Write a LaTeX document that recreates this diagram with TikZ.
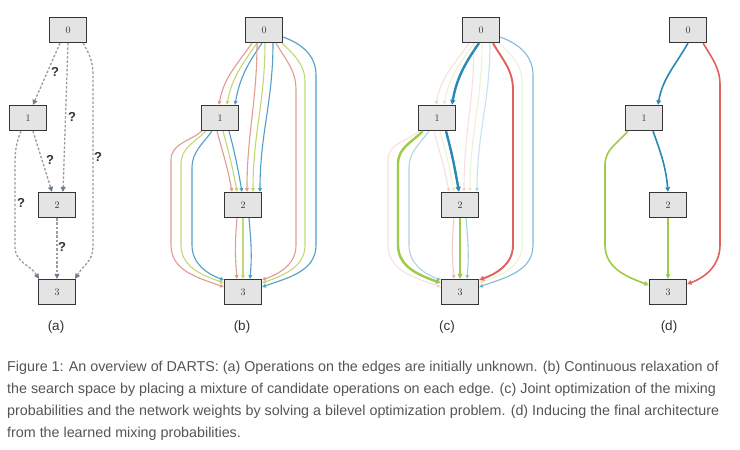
\documentclass[tikz,border=0pt]{standalone}
\usepackage{fontspec}
\newfontfamily\capfont{Liberation Sans}
\usetikzlibrary{arrows.meta,calc}
\definecolor{boxfill}{HTML}{E4E4E4}
\definecolor{boxline}{HTML}{353535}
\definecolor{dashc}{HTML}{9C9C9C}
\definecolor{tipa}{HTML}{6E7B92}
\definecolor{lr}{HTML}{E39A94}
\definecolor{lg}{HTML}{C2D973}
\definecolor{lb}{HTML}{4F9FC6}
\definecolor{dr}{HTML}{E0625B}
\definecolor{dg}{HTML}{9CCB47}
\definecolor{db}{HTML}{2A88B4}
\definecolor{captext}{HTML}{555555}

% all mixed edges of a panel (b)/(c); #1 = node name prefix
\newcommand\drawmix[1]{%
% 0 -> 1
\draw[rB,s01r/.try] ($(#10.south)+(-12,0)$) to[out=-125,in=80] ($(#11.north)+(-1,0)$);
\draw[gB,s01g/.try] ($(#10.south)+(-7,0)$) to[out=-125,in=80] ($(#11.north)+(7,0)$);
\draw[bB,s01b/.try] ($(#10.south)+(-2,0)$) to[out=-125,in=80] ($(#11.north)+(15,0)$);
% 0 -> 2
\draw[rB,s02r/.try] ($(#10.south)+(-7,0)$) to[out=-90,in=90] ($(#12.north)+(4,0)$);
\draw[gB,s02g/.try] ($(#10.south)+(1,0)$) to[out=-90,in=90] ($(#12.north)+(10,0)$);
\draw[bB,s02b/.try] ($(#10.south)+(9,0)$) to[out=-90,in=90] ($(#12.north)+(17,0)$);
% 1 -> 2
\draw[rB,s12r/.try] ($(#11.south)+(-3,0)$) to[out=-75,in=100] ($(#12.north)+(-11,0)$);
\draw[gB,s12g/.try] ($(#11.south)+(3,0)$) to[out=-75,in=100] ($(#12.north)+(-6,0)$);
\draw[bB,s12b/.try] ($(#11.south)+(9,0)$) to[out=-75,in=100] ($(#12.north)+(-1,0)$);
% 1 -> 3
\draw[rB,s13r/.try] ($(#11.south west)+(1,0)$) to[out=-140,in=90] ($(#11)+(-49,-42)$) -- ($(#13)+(-72,47)$) to[out=-90,in=160] ($(#13.west)+(0,5)$);
\draw[gB,s13g/.try] ($(#11.south west)+(5,0)$) to[out=-135,in=90] ($(#11)+(-39,-46)$) -- ($(#13)+(-62,47)$) to[out=-90,in=160] ($(#13.west)+(0,9)$);
\draw[bB,s13b/.try] ($(#11.south west)+(11,0)$) to[out=-125,in=90] ($(#11)+(-28,-50)$) -- ($(#13)+(-51,47)$) to[out=-90,in=160] ($(#13.west)+(0,12)$);
% 0 -> 3
\draw[rB,s03r/.try] ($(#10.south)+(12,0)$) to[out=-60,in=90] ($(#10)+(32,-60)$) -- ($(#13)+(53,47)$) to[out=-90,in=20] ($(#13.east)+(0,12)$);
\draw[gB,s03g/.try] ($(#10.south east)+(-1,0)$) to[out=-45,in=90] ($(#10)+(41,-52)$) -- ($(#13)+(62,47)$) to[out=-90,in=20] ($(#13.east)+(0,9)$);
\draw[bB,s03b/.try] ($(#10.east)+(0,-7)$) to[out=-20,in=90] ($(#10)+(52,-45)$) -- ($(#13)+(73,47)$) to[out=-90,in=20] ($(#13.east)+(0,5)$);
% 2 -> 3
\draw[rB,s23r/.try] ($(#12.south)+(-6,0)$) to[out=-95,in=95] ($(#13.north)+(-6,0)$);
\draw[gB,s23g/.try] ($(#12.south)+(0,0)$) -- ($(#13.north)+(0,0)$);
\draw[bB,s23b/.try] ($(#12.south)+(6,0)$) to[out=-85,in=85] ($(#13.north)+(7,0)$);
}

\begin{document}
\begin{tikzpicture}[x=1pt,y=1pt,
  box/.style={draw=boxline, fill=boxfill, line width=1.3pt, minimum width=37pt,
    minimum height=25pt, inner sep=0pt, text=boxline, font=\fontsize{10}{10}\selectfont},
  qedge/.style={draw=dashc, line width=1.3pt, dash pattern=on 2.5pt off 1.8pt,
    -{Triangle[length=5pt,width=5pt,color=tipa]}},
  qmark/.style={font=\capfont\bfseries\fontsize{13}{13}\selectfont, text=black!80, inner sep=0pt},
  mixline/.style={line width=1.1pt, -{Triangle[length=3.8pt,width=3.8pt]}},
  rB/.style={mixline, draw=lr},
  gB/.style={mixline, draw=lg},
  bB/.style={mixline, draw=lb},
  faint/.style={opacity=.3},
  thickR/.style={draw=dr, line width=1.9pt, -{Triangle[length=5pt,width=5pt]}},
  thickG/.style={draw=dg, line width=2.4pt, -{Triangle[length=5pt,width=5pt]}},
  thickB/.style={draw=db, line width=2.4pt, -{Triangle[length=5pt,width=5pt]}},
  dR/.style={draw=dr, line width=1.6pt, -{Triangle[length=4.5pt,width=4.5pt]}},
  dG/.style={draw=dg, line width=1.6pt, -{Triangle[length=4.5pt,width=4.5pt]}},
  dB/.style={draw=db, line width=1.6pt, -{Triangle[length=4.5pt,width=4.5pt]}},
  panellabel/.style={font=\capfont\fontsize{13.5}{13.5}\selectfont, text=black!80, inner sep=0pt},
  capline/.style={font=\capfont\fontsize{14.3}{14.3}\selectfont, text=captext, anchor=west, inner sep=0pt}
]
\useasboundingbox (0,0) rectangle (740,-450);
\fill[white] (0,0) rectangle (740,-450);

% ---------------- panel (a)
\node[box] (a0) at (68,-30) {0};
\node[box] (a1) at (28,-118) {1};
\node[box] (a2) at (57,-205) {2};
\node[box] (a3) at (57,-292) {3};
\draw[qedge] ($(a0.south)+(-8,0)$) -- ($(a1.north)+(5,0)$);
\draw[qedge] (a0.south) -- ($(a2.north)+(6,0)$);
\draw[qedge] ($(a1.south)+(5,0)$) -- ($(a2.north)+(-5,0)$);
\draw[qedge] (a2.south) -- (a3.north);
\draw[qedge] ($(a0.south east)+(-4,0)$) to[out=-60,in=90] ($(a0)+(25,-45)$) -- ($(a3)+(36,45)$) to[out=-90,in=60] ($(a3.north east)+(-1,0)$);
\draw[qedge] ($(a1.south west)+(12,0)$) to[out=-110,in=90] ($(a1)+(-13,-45)$) -- ($(a3)+(-42,45)$) to[out=-90,in=120] ($(a3.north west)+(1,0)$);
\node[qmark] (q01) at (55,-72) {?};
\node[qmark] (q02) at (72,-117) {?};
\node[qmark] (q12) at (50,-160) {?};
\node[qmark] (q03) at (98,-157) {?};
\node[qmark] (q13) at (21,-203) {?};
\node[qmark] (q23) at (62,-247) {?};
\node[panellabel] (la) at (56,-327) {(a)};

% ---------------- panel (b)
\begin{scope}
\node[box] (b0) at (264,-30) {0};
\node[box] (b1) at (220,-118) {1};
\node[box] (b2) at (243,-205) {2};
\node[box] (b3) at (243,-292) {3};
\drawmix{b}
\node[panellabel] (lb) at (242,-327) {(b)};
\end{scope}

% ---------------- panel (c)
\begin{scope}
\tikzset{
  s01r/.style={faint}, s01g/.style={faint}, s01b/.style={thickB},
  s02r/.style={faint}, s02g/.style={faint}, s02b/.style={faint},
  s12r/.style={faint}, s12g/.style={faint}, s12b/.style={thickB},
  s13r/.style={faint}, s13g/.style={thickG}, s13b/.style={opacity=.45},
  s03r/.style={thickR}, s03g/.style={faint}, s03b/.style={opacity=.7},
  s23r/.style={opacity=.5}, s23g/.style={thickG}, s23b/.style={opacity=.5}}
\node[box] (c0) at (481,-30) {0};
\node[box] (c1) at (437,-118) {1};
\node[box] (c2) at (460,-205) {2};
\node[box] (c3) at (460,-292) {3};
\drawmix{c}
\node[panellabel] (lc) at (447,-327) {(c)};
\end{scope}

% ---------------- panel (d)
\node[box] (d0) at (688,-30) {0};
\node[box] (d1) at (644,-118) {1};
\node[box] (d2) at (668,-205) {2};
\node[box] (d3) at (668,-292) {3};
\draw[dB] (d0.south) to[out=-120,in=80] ($(d1.north)+(14,0)$);
\draw[dB] ($(d1.south)+(9,0)$) to[out=-70,in=95] (d2.north);
\draw[dG] (d2.south) -- (d3.north);
\draw[dG] ($(d1.south west)+(3,0)$) to[out=-130,in=90] ($(d1)+(-39,-47)$) -- ($(d3)+(-63,47)$) to[out=-90,in=160] ($(d3.west)+(0,7)$);
\draw[dR] ($(d0.south east)+(-4,0)$) to[out=-60,in=90] ($(d0)+(32,-55)$) -- ($(d3)+(52,47)$) to[out=-90,in=20] ($(d3.east)+(0,8)$);
\node[panellabel] (ld) at (669,-327) {(d)};

% ---------------- caption
\node[capline] (cap1) at (7,-368) {Figure 1: An overview of DARTS: (a) Operations on the edges are initially unknown. (b) Continuous relaxation of};
\node[capline] (cap2) at (7,-390) {the search space by placing a mixture of candidate operations on each edge. (c) Joint optimization of the mixing};
\node[capline] (cap3) at (7,-412) {probabilities and the network weights by solving a bilevel optimization problem. (d) Inducing the final architecture};
\node[capline] (cap4) at (7,-434) {from the learned mixing probabilities.};
\end{tikzpicture}
\end{document}
